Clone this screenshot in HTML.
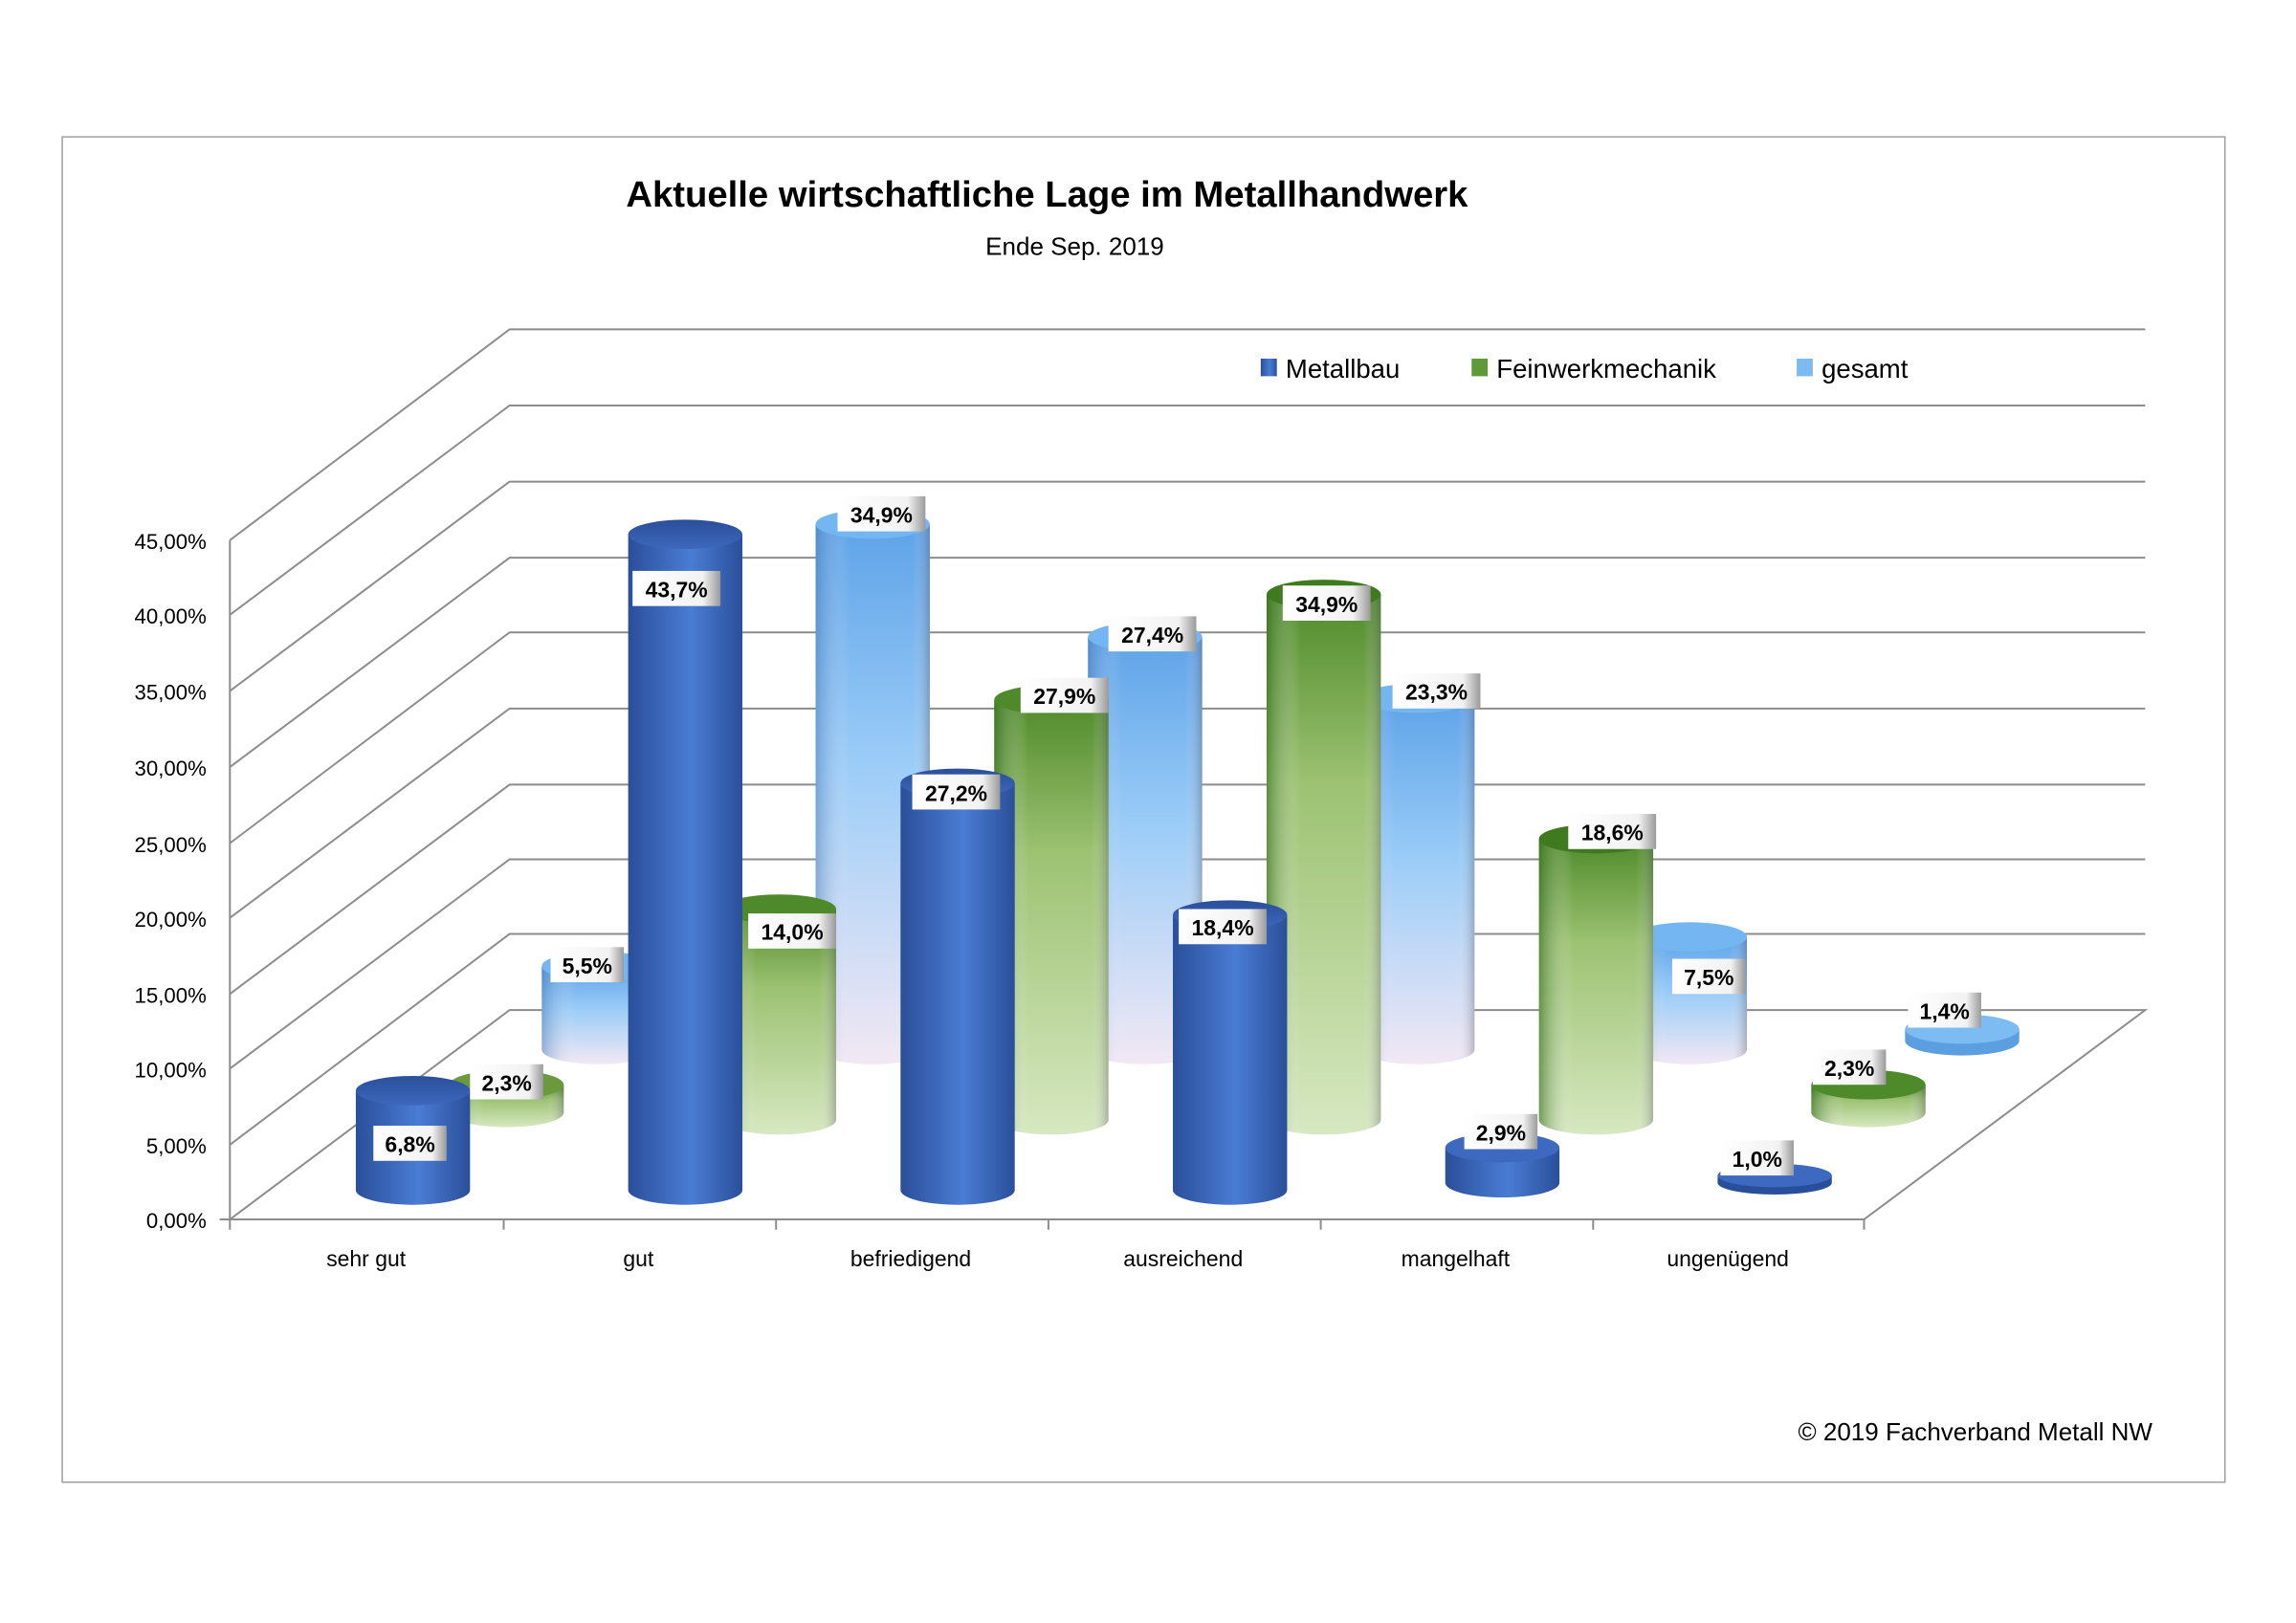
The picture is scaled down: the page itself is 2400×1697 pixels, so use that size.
<!DOCTYPE html>
<html><head><meta charset="utf-8"><style>html,body{margin:0;padding:0;background:#fff}svg{display:block}</style></head>
<body>
<svg width="2400" height="1697" viewBox="0 0 1568 1108.7" preserveAspectRatio="none" xmlns="http://www.w3.org/2000/svg" font-family="'Liberation Sans', sans-serif">
<defs>
<linearGradient id="gb" x1="0" x2="1" y1="0" y2="0"><stop offset="0" stop-color="#2a4f9a"/><stop offset="0.55" stop-color="#4a7cd4"/><stop offset="1" stop-color="#2a4f9a"/></linearGradient>
<linearGradient id="gbt" x1="0" x2="0" y1="0" y2="1"><stop offset="0" stop-color="#2a4f9a"/><stop offset="1" stop-color="#3d68bd"/></linearGradient>
<linearGradient id="gg" x1="0" x2="0" y1="0" y2="1"><stop offset="0" stop-color="#4f8a2a"/><stop offset="0.35" stop-color="#9cc272"/><stop offset="1" stop-color="#d7e8c1"/></linearGradient>
<linearGradient id="ggh" x1="0" x2="1" y1="0" y2="0"><stop offset="0" stop-color="#2f6a18" stop-opacity="0.6"/><stop offset="0.3" stop-color="#fff" stop-opacity="0"/><stop offset="0.85" stop-color="#fff" stop-opacity="0"/><stop offset="1" stop-color="#556" stop-opacity="0.35"/></linearGradient>
<linearGradient id="ga" x1="0" x2="0" y1="0" y2="1"><stop offset="0" stop-color="#5ea3e8"/><stop offset="0.45" stop-color="#9ccdf8"/><stop offset="1" stop-color="#f2e8f4"/></linearGradient>
<linearGradient id="gah" x1="0" x2="1" y1="0" y2="0"><stop offset="0" stop-color="#3a6fb0" stop-opacity="0.45"/><stop offset="0.3" stop-color="#fff" stop-opacity="0"/><stop offset="0.85" stop-color="#fff" stop-opacity="0"/><stop offset="1" stop-color="#556" stop-opacity="0.35"/></linearGradient>
<linearGradient id="lbl" x1="0" x2="1" y1="0" y2="0"><stop offset="0" stop-color="#ffffff"/><stop offset="0.8" stop-color="#f2f2f2"/><stop offset="1" stop-color="#9a9a9a"/></linearGradient>
</defs>
<rect x="42.5" y="93.5" width="1477" height="919" fill="#fff" stroke="#a0a0a0" stroke-width="1"/>
<text x="715" y="141" text-anchor="middle" font-size="25" font-weight="bold" fill="#000">Aktuelle wirtschaftliche Lage im Metallhandwerk</text>
<text x="734" y="174" text-anchor="middle" font-size="17" fill="#000">Ende Sep. 2019</text>
<g stroke="#8c8c8c" stroke-width="1.3" fill="none">
<polyline points="157,369 348,225 1465,225"/>
<polyline points="157,420 348,277 1465,277"/>
<polyline points="157,472 348,329 1465,329"/>
<polyline points="157,524 348,381 1465,381"/>
<polyline points="157,576 348,432 1465,432"/>
<polyline points="157,627 348,484 1465,484"/>
<polyline points="157,679 348,536 1465,536"/>
<polyline points="157,730 348,587 1465,587"/>
<polyline points="157,782 348,638 1465,638"/>
<polyline points="157,833 348,690 1465,690 1273,833 157,833"/>
<line x1="157" y1="369" x2="157" y2="840"/>
<line x1="150" y1="833" x2="157" y2="833"/>
<line x1="344" y1="833" x2="344" y2="840"/><line x1="530" y1="833" x2="530" y2="840"/><line x1="716" y1="833" x2="716" y2="840"/><line x1="902" y1="833" x2="902" y2="840"/><line x1="1088" y1="833" x2="1088" y2="840"/><line x1="1273" y1="833" x2="1273" y2="840"/>
</g>
<g font-size="14.5" text-anchor="end" fill="#000">
<text x="141" y="375">45,00%</text><text x="141" y="426">40,00%</text><text x="141" y="478">35,00%</text><text x="141" y="530">30,00%</text><text x="141" y="582">25,00%</text><text x="141" y="633">20,00%</text><text x="141" y="685">15,00%</text><text x="141" y="736">10,00%</text><text x="141" y="788">5,00%</text><text x="141" y="839">0,00%</text>
</g>
<g font-size="15" text-anchor="middle" fill="#000">
<text x="250" y="865">sehr gut</text><text x="436" y="865">gut</text><text x="622" y="865">befriedigend</text><text x="808" y="865">ausreichend</text><text x="994" y="865">mangelhaft</text><text x="1180" y="865">ungenügend</text>
</g>
<!-- legend -->
<rect x="861" y="245" width="11" height="12" fill="url(#gb)"/>
<text x="878" y="258" font-size="18">Metallbau</text>
<rect x="1005" y="245" width="11" height="12" fill="#5f9a38"/>
<text x="1022" y="258" font-size="18">Feinwerkmechanik</text>
<rect x="1227" y="245" width="11" height="12" fill="#7dbaf0"/>
<text x="1244" y="258" font-size="18">gesamt</text>
<!-- gesamt -->
<g>
<path d="M370,660 L370,717 A39,10 0 0 0 448,717 L448,660 Z" fill="url(#ga)"/><path d="M370,660 L370,717 A39,10 0 0 0 448,717 L448,660 Z" fill="url(#gah)"/><ellipse cx="409" cy="660" rx="39" ry="10" fill="#74b6f2"/>
<path d="M557,358 L557,717 A39,10 0 0 0 635,717 L635,358 Z" fill="url(#ga)"/><path d="M557,358 L557,717 A39,10 0 0 0 635,717 L635,358 Z" fill="url(#gah)"/><ellipse cx="596" cy="358" rx="39" ry="10" fill="#74b6f2"/>
<path d="M743,435 L743,717 A39,10 0 0 0 821,717 L821,435 Z" fill="url(#ga)"/><path d="M743,435 L743,717 A39,10 0 0 0 821,717 L821,435 Z" fill="url(#gah)"/><ellipse cx="782" cy="435" rx="39" ry="10" fill="#74b6f2"/>
<path d="M929,477 L929,717 A39,10 0 0 0 1007,717 L1007,477 Z" fill="url(#ga)"/><path d="M929,477 L929,717 A39,10 0 0 0 1007,717 L1007,477 Z" fill="url(#gah)"/><ellipse cx="968" cy="477" rx="39" ry="10" fill="#74b6f2"/>
<path d="M1115,640 L1115,717 A39,10 0 0 0 1193,717 L1193,640 Z" fill="url(#ga)"/><path d="M1115,640 L1115,717 A39,10 0 0 0 1193,717 L1193,640 Z" fill="url(#gah)"/><ellipse cx="1154" cy="640" rx="39" ry="10" fill="#74b6f2"/>
<path d="M1301,703 L1301,711 A39,10 0 0 0 1379,711 L1379,703 Z" fill="#5b9fe0"/><ellipse cx="1340" cy="703" rx="39" ry="10" fill="#7dbcf2"/>
</g>
<!-- Feinwerk -->
<g>
<path d="M307,741 L307,760 A39,10 0 0 0 385,760 L385,741 Z" fill="url(#gg)"/><path d="M307,741 L307,760 A39,10 0 0 0 385,760 L385,741 Z" fill="url(#ggh)"/><ellipse cx="346" cy="741" rx="39" ry="10" fill="#6b9a3e"/>
<path d="M493,621 L493,765 A39,10 0 0 0 571,765 L571,621 Z" fill="url(#gg)"/><path d="M493,621 L493,765 A39,10 0 0 0 571,765 L571,621 Z" fill="url(#ggh)"/><ellipse cx="532" cy="621" rx="39" ry="10" fill="#4f8a2a"/>
<path d="M679,478 L679,765 A39,10 0 0 0 757,765 L757,478 Z" fill="url(#gg)"/><path d="M679,478 L679,765 A39,10 0 0 0 757,765 L757,478 Z" fill="url(#ggh)"/><ellipse cx="718" cy="478" rx="39" ry="10" fill="#4f8a2a"/>
<path d="M865,406 L865,765 A39,10 0 0 0 943,765 L943,406 Z" fill="url(#gg)"/><path d="M865,406 L865,765 A39,10 0 0 0 943,765 L943,406 Z" fill="url(#ggh)"/><ellipse cx="904" cy="406" rx="39" ry="10" fill="#3f7a1f"/>
<path d="M1051,573 L1051,765 A39,10 0 0 0 1129,765 L1129,573 Z" fill="url(#gg)"/><path d="M1051,573 L1051,765 A39,10 0 0 0 1129,765 L1129,573 Z" fill="url(#ggh)"/><ellipse cx="1090" cy="573" rx="39" ry="10" fill="#3f7a1f"/>
<path d="M1237,741 L1237,760 A39,10 0 0 0 1315,760 L1315,741 Z" fill="url(#gg)"/><path d="M1237,741 L1237,760 A39,10 0 0 0 1315,760 L1315,741 Z" fill="url(#ggh)"/><ellipse cx="1276" cy="741" rx="39" ry="10" fill="#4f8a2a"/>
</g>
<!-- Metallbau -->
<g>
<path d="M243,745 L243,813 A39,10 0 0 0 321,813 L321,745 Z" fill="url(#gb)"/><ellipse cx="282" cy="745" rx="39" ry="10" fill="url(#gbt)"/>
<path d="M429,365 L429,813 A39,10 0 0 0 507,813 L507,365 Z" fill="url(#gb)"/><ellipse cx="468" cy="365" rx="39" ry="10" fill="url(#gbt)"/>
<path d="M615,535 L615,813 A39,10 0 0 0 693,813 L693,535 Z" fill="url(#gb)"/><ellipse cx="654" cy="535" rx="39" ry="10" fill="url(#gbt)"/>
<path d="M801,625 L801,813 A39,10 0 0 0 879,813 L879,625 Z" fill="url(#gb)"/><ellipse cx="840" cy="625" rx="39" ry="10" fill="url(#gbt)"/>
<path d="M987,784 L987,808 A39,10 0 0 0 1065,808 L1065,784 Z" fill="url(#gb)"/><ellipse cx="1026" cy="784" rx="39" ry="10" fill="#3d69c0"/>
<path d="M1173,803 L1173,808 A39,8 0 0 0 1251,808 L1251,803 Z" fill="#2a4f9a"/><ellipse cx="1212" cy="803" rx="39" ry="8" fill="#3d69c0"/>
</g>
<!-- labels -->
<g font-size="15" font-weight="bold" text-anchor="middle" fill="#000">
<g transform="translate(280,781)"><rect x="-25" y="-12" width="50" height="24" fill="url(#lbl)"/><text y="6">6,8%</text></g>
<g transform="translate(346,739)"><rect x="-25" y="-12" width="50" height="24" fill="url(#lbl)"/><text y="6">2,3%</text></g>
<g transform="translate(401,659)"><rect x="-25" y="-12" width="50" height="24" fill="url(#lbl)"/><text y="6">5,5%</text></g>
<g transform="translate(462,402)"><rect x="-30" y="-12" width="60" height="24" fill="url(#lbl)"/><text y="6">43,7%</text></g>
<g transform="translate(602,351)"><rect x="-30" y="-12" width="60" height="24" fill="url(#lbl)"/><text y="6">34,9%</text></g>
<g transform="translate(541,636)"><rect x="-30" y="-12" width="60" height="24" fill="url(#lbl)"/><text y="6">14,0%</text></g>
<g transform="translate(653,541)"><rect x="-30" y="-12" width="60" height="24" fill="url(#lbl)"/><text y="6">27,2%</text></g>
<g transform="translate(727,475)"><rect x="-30" y="-12" width="60" height="24" fill="url(#lbl)"/><text y="6">27,9%</text></g>
<g transform="translate(787,433)"><rect x="-30" y="-12" width="60" height="24" fill="url(#lbl)"/><text y="6">27,4%</text></g>
<g transform="translate(835,633)"><rect x="-30" y="-12" width="60" height="24" fill="url(#lbl)"/><text y="6">18,4%</text></g>
<g transform="translate(906,412)"><rect x="-30" y="-12" width="60" height="24" fill="url(#lbl)"/><text y="6">34,9%</text></g>
<g transform="translate(981,472)"><rect x="-30" y="-12" width="60" height="24" fill="url(#lbl)"/><text y="6">23,3%</text></g>
<g transform="translate(1025,773)"><rect x="-25" y="-12" width="50" height="24" fill="url(#lbl)"/><text y="6">2,9%</text></g>
<g transform="translate(1101,568)"><rect x="-30" y="-12" width="60" height="24" fill="url(#lbl)"/><text y="6">18,6%</text></g>
<g transform="translate(1167,667)"><rect x="-25" y="-12" width="50" height="24" fill="url(#lbl)"/><text y="6">7,5%</text></g>
<g transform="translate(1200,791)"><rect x="-25" y="-12" width="50" height="24" fill="url(#lbl)"/><text y="6">1,0%</text></g>
<g transform="translate(1263,729)"><rect x="-25" y="-12" width="50" height="24" fill="url(#lbl)"/><text y="6">2,3%</text></g>
<g transform="translate(1328,690)"><rect x="-25" y="-12" width="50" height="24" fill="url(#lbl)"/><text y="6">1,4%</text></g>
</g>
<text x="1470" y="984" text-anchor="end" font-size="17">© 2019 Fachverband Metall NW</text>
</svg>
</body></html>
